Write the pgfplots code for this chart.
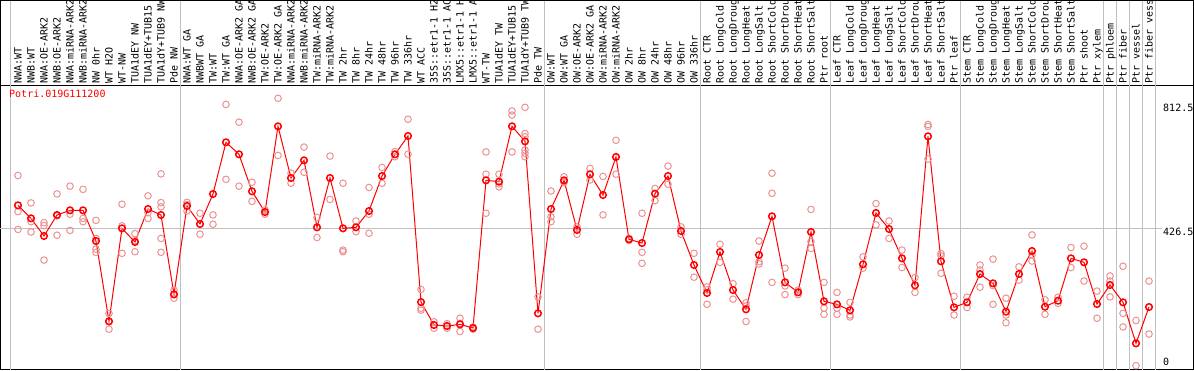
\documentclass[border=0pt]{standalone}
\usepackage{pgfplots}
\pgfplotsset{compat=1.18}
\usepackage{pgfplotstable}
\usepackage{fontspec}
\setmainfont{DejaVu Sans Mono}
\definecolor{rep}{RGB}{236,146,146}
\definecolor{gridg}{RGB}{192,192,192}
\newcommand\lbl{\fontsize{10pt}{11pt}\selectfont}

\pgfplotstableread{
x y
0 497.6
1 457.3
2 402.6
3 467.6
4 482.1
5 482.1
6 387.1
7 138.3
8 426.3
9 384.0
10 486.2
11 467.6
12 221.9
13 495.5
14 439.8
15 532.7
16 692.7
17 655.5
18 540.9
19 476.9
20 742.2
21 582.2
22 636.9
23 429.4
24 582.2
25 426.3
26 429.4
27 480.0
28 588.4
29 655.5
30 712.3
31 198.2
32 127.0
33 123.9
34 129.0
35 117.7
36 575.0
37 570.9
38 742.2
39 695.8
40 163.1
41 486.2
42 575.0
43 421.2
44 593.5
45 529.6
46 647.3
47 392.3
48 380.9
49 533.7
50 588.4
51 418.1
52 312.8
53 226.1
54 353.1
55 235.4
56 175.5
57 343.8
58 463.5
59 259.1
60 228.2
61 415.0
62 200.3
63 190.9
64 172.4
65 314.9
66 473.8
67 424.3
68 333.4
69 249.8
70 711.2
71 324.1
72 181.7
73 197.2
74 284.9
75 256.0
76 168.3
77 284.9
78 356.1
79 183.7
80 202.3
81 333.4
82 321.1
83 192.0
84 250.9
85 197.2
86 70.2
87 182.7
}\means

\pgfplotstableread{
x y
0 590
0 478
0 423
1 505
1 447
1 415
2 444
2 435
2 328
3 533
3 465
3 405
4 557
4 470
4 420
5 547
5 457
5 447
6 451
6 395
6 362
6 352
7 163
7 138
7 114
8 501
8 434
8 349
9 410
9 388
9 354
10 527
10 475
10 457
11 595
11 506
11 493
11 395
11 352
12 235
12 221
12 210
13 507
13 500
13 480
14 473
14 408
15 468
15 439
16 810
16 578
17 755
17 557
18 569
18 510
19 483
19 470
20 829
20 652
21 597
21 566
22 678
22 600
23 460
23 398
24 650
24 516
25 566
25 359
25 354
26 449
26 416
27 553
27 470
27 411
28 615
28 566
29 664
29 648
30 764
30 656
31 237
31 179
31 173
32 137
32 127
32 117
33 131
33 124
33 117
34 148
34 132
34 107
35 121
35 118
35 114
36 663
36 594
36 473
37 594
37 564
37 555
38 790
38 777
38 663
39 801
39 720
39 710
39 669
39 659
39 648
40 214
40 114
41 542
41 462
41 447
42 586
42 571
42 568
43 431
43 408
44 612
44 576
45 587
45 468
46 699
46 594
47 395
47 389
48 473
48 352
48 318
49 550
49 512
50 619
50 563
51 431
51 408
52 349
52 275
53 245
53 236
53 191
54 377
54 321
55 255
55 207
56 196
56 186
56 138
57 387
57 323
57 316
58 597
58 535
58 259
59 303
59 248
59 221
60 235
60 221
61 485
61 385
61 364
62 259
62 179
62 160
63 228
63 179
63 160
64 197
64 158
64 152
65 338
65 303
66 503
66 437
67 449
67 395
68 359
68 305
69 274
69 228
70 748
70 742
70 641
71 348
71 341
71 287
72 216
72 158
73 213
73 181
74 313
74 297
74 244
75 331
75 249
75 191
76 210
76 158
76 134
77 307
77 266
78 406
78 344
78 325
79 205
79 160
80 213
80 194
81 367
81 305
82 371
82 263
83 232
83 148
84 279
84 263
84 214
85 309
85 163
85 121
86 141
86 1
87 263
87 99
}\reps

\begin{document}
\begin{tikzpicture}
\begin{axis}[
  scale only axis, width=1193pt, height=284.5pt,
  xmin=-1.3462, xmax=90.4231, ymin=-10.84, ymax=870.2,
  axis line style={black, line width=1pt},
  clip=false,
  xtick={0,...,87},
  xticklabels={NWA:WT, NWB:WT, NWA:OE-ARK2, NWB:OE-ARK2, NWA:miRNA-ARK2, NWB:miRNA-ARK2, NW 0hr, WT H2O, WT-NW, TUA1dEY NW, TUA1dEY+TUB15, TUA1dY+TUB9 NW, Pde NW,
    NWA:WT GA, NWBWT GA, TW:WT, TW:WT GA, NWA:OE-ARK2 GA, NWB:OE-ARK2 GA, TW:OE-ARK2, TW:OE-ARK2 GA, NWA:miRNA-ARK2, NWB:miRNA-ARK2, TW:miRNA-ARK2, TW:miRNA-ARK2, TW 2hr, TW 8hr, TW 24hr, TW 48hr, TW 96hr, TW 336hr, WT ACC, 35S::etr1-1 H2, 35S::etr1-1 AC, LMX5::etr1-1 H, LMX5::etr1-1 A, WT-TW, TUA1dEY TW, TUA1dEY+TUB15, TUA1dY+TUB9 TW, Pde TW,
    OW:WT, OW:WT GA, OW:OE-ARK2, OW:OE-ARK2 GA, OW:miRNA-ARK2, OW:miRNA-ARK2, OW 2hr, OW 8hr, OW 24hr, OW 48hr, OW 96hr, OW 336hr,
    Root CTR, Root LongCold, Root LongDroug, Root LongHeat, Root LongSalt, Root ShortCold, Root ShortDrou, Root ShortHeat, Root ShortSalt, Ptr root,
    Leaf CTR, Leaf LongCold, Leaf LongDroug, Leaf LongHeat, Leaf LongSalt, Leaf ShortCold, Leaf ShortDrou, Leaf ShortHeat, Leaf ShortSalt, Ptr leaf,
    Stem CTR, Stem LongCold, Stem LongDroug, Stem LongHeat, Stem LongSalt, Stem ShortCold, Stem ShortDrou, Stem ShortHeat, Stem ShortSalt, Ptr shoot,
    Ptr xylem, Ptr phloem, Ptr fiber, Ptr vessel, Ptr fiber vess},
  xticklabel pos=upper,
  major tick length=0pt,
  xticklabel style={rotate=90, anchor=west, inner sep=0pt, font=\lbl, text height=7.3pt, text depth=0pt},
  xticklabel shift=1.5pt,
  ytick=\empty,
]
\pgfplotsinvokeforeach{-0.6,12.5,40.5,52.5,62.5,72.5,83.5,84.5,85.5,86.5,87.5}{
  \draw[gridg, line width=1pt] (axis cs:#1,-10.84) -- (axis cs:#1,1133.4);
}
\draw[gridg, line width=1pt] (axis cs:-1.3462,426.5) -- (axis cs:88.0,426.5);
\draw[black, line width=1pt] (rel axis cs:0,1) -- (rel axis cs:0,1.29701) -- (rel axis cs:1,1.29701) -- (rel axis cs:1,1);

\addplot[only marks, mark=o, mark size=3.3pt, rep, mark options={line width=1pt}] table[x=x,y=y] {\reps};
\addplot[red, line width=1pt, mark=o, mark size=3.3pt, mark options={line width=1.5pt}] table[x=x,y=y] {\means};

\node[anchor=west, inner sep=0pt, text=red, font=\lbl] at (rel axis cs:0.00712,0.9684) {Potri.019G111200};
\node[anchor=west, inner sep=0pt, font=\lbl] at (axis cs:88.077,800) {812.5};
\node[anchor=west, inner sep=0pt, font=\lbl] at (axis cs:88.077,415.9) {426.5};
\node[anchor=west, inner sep=0pt, font=\lbl] at (axis cs:88.077,13.3) {0};

\coordinate (SW) at (rel axis cs:0,0);
\coordinate (NE) at (rel axis cs:1,1.29877);
\end{axis}
\pgfresetboundingbox
\path[use as bounding box] ([shift={(-0.5pt,-0.5pt)}]SW) rectangle ([shift={(0.5pt,0pt)}]NE);
\end{tikzpicture}
\end{document}
